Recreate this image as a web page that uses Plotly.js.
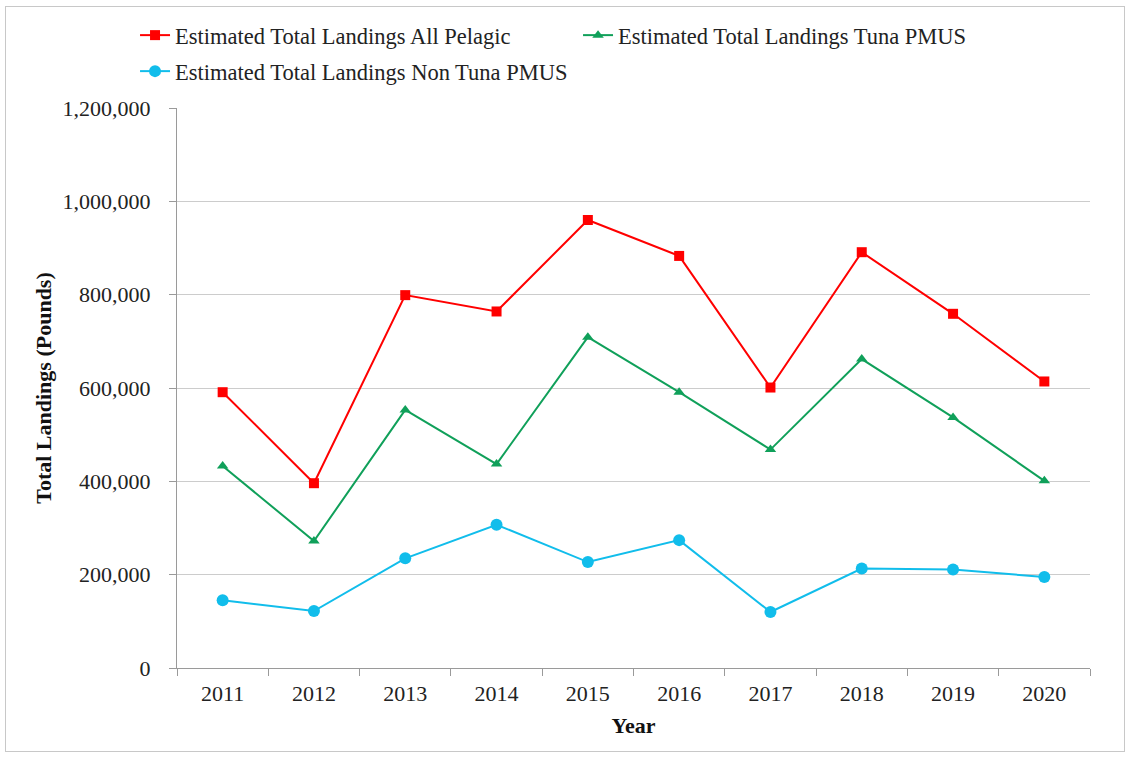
<!DOCTYPE html>
<html>
<head>
<meta charset="utf-8">
<script src="https://cdn.plot.ly/plotly-3.0.1.min.js"></script>
<style>
  html, body { margin: 0; padding: 0; background: #ffffff; }
  #wrap { position: relative; width: 1130px; height: 757px; }
  #chart { width: 1130px; height: 757px; }
  #frame { position: absolute; left: 5px; top: 6px; width: 1118px; height: 744px;
           border: 1px solid #c8c8c8; pointer-events: none; }
</style>
</head>
<body>
<div id="wrap">
  <div id="chart"></div>
  <div id="frame"></div>
</div>
<script>
const years = ["2011","2012","2013","2014","2015","2016","2017","2018","2019","2020"];
const allPelagic = [591000, 396000, 799000, 764000, 960000, 883000, 601000, 891000, 759000, 614000];
const tunaPMUS = [433000, 272000, 553000, 437000, 709000, 591000, 468000, 662000, 537000, 401000];
const nonTunaPMUS = [145000, 122000, 235000, 307000, 227000, 274000, 120000, 213000, 211000, 195000];
const seriesNames = [
  "Estimated Total Landings All Pelagic",
  "Estimated Total Landings Tuna PMUS",
  "Estimated Total Landings Non Tuna PMUS"
];

const font = "Liberation Serif, Times New Roman, serif";

const traces = [
  { x: years, y: allPelagic, name: seriesNames[0], type: "scatter", mode: "lines+markers", legend: "legend",
    line: { color: "#ff0000", width: 2 }, marker: { symbol: "square", size: 10, color: "#ff0000" } },
  { x: years, y: tunaPMUS, name: seriesNames[1], type: "scatter", mode: "lines+markers", legend: "legend",
    line: { color: "#10a05a", width: 2 }, marker: { symbol: "triangle-up", size: 10, color: "#10a05a" } },
  { x: years, y: nonTunaPMUS, name: seriesNames[2], type: "scatter", mode: "lines+markers", legend: "legend2",
    line: { color: "#11bdeb", width: 2 }, marker: { symbol: "circle", size: 12, color: "#11bdeb" } }
];

const legendBase = {
  orientation: "h", xref: "container", yref: "container",
  x: 0.1195, xanchor: "left", yanchor: "top",
  entrywidth: 398, entrywidthmode: "pixels",
  font: { family: font, size: 22.5, color: "#222222" },
  tracegroupgap: 0, itemwidth: 30, bgcolor: "rgba(0,0,0,0)"
};

const layout = {
  width: 1130, height: 757,
  margin: { l: 177, r: 40, t: 108, b: 89 },
  paper_bgcolor: "#ffffff", plot_bgcolor: "#ffffff",
  font: { family: font, size: 22, color: "#222222" },
  showlegend: true,
  legend: Object.assign({}, legendBase, { y: 1 - 14 / 757 }),
  legend2: Object.assign({}, legendBase, { y: 1 - 50 / 757 }),
  xaxis: {
    type: "category", range: [-0.5, 9.5],
    showline: true, linecolor: "#9a9a9a", linewidth: 1,
    ticks: "outside", tickson: "boundaries", ticklen: 7, tickcolor: "#9a9a9a",
    showgrid: false, zeroline: false,
    tickfont: { family: font, size: 22, color: "#222222" },
    ticklabelstandoff: 6,
    title: { text: "<b>Year</b>", font: { family: font, size: 22, color: "#111111" }, standoff: 12 }
  },
  yaxis: {
    range: [0, 1200000], tick0: 0, dtick: 200000, tickformat: ",d",
    showline: true, linecolor: "#9a9a9a", linewidth: 1,
    ticks: "outside", ticklen: 7, tickcolor: "#9a9a9a",
    showgrid: true, gridcolor: "#cccccc", gridwidth: 1, zeroline: false,
    tickfont: { family: font, size: 22, color: "#222222" },
    ticklabelstandoff: 14,
    title: { text: "<b>Total Landings (Pounds)</b>", font: { family: font, size: 22, color: "#111111" }, standoff: 4 }
  }
};

Plotly.newPlot("chart", traces, layout, { displayModeBar: false, staticPlot: true });
</script>
</body>
</html>
